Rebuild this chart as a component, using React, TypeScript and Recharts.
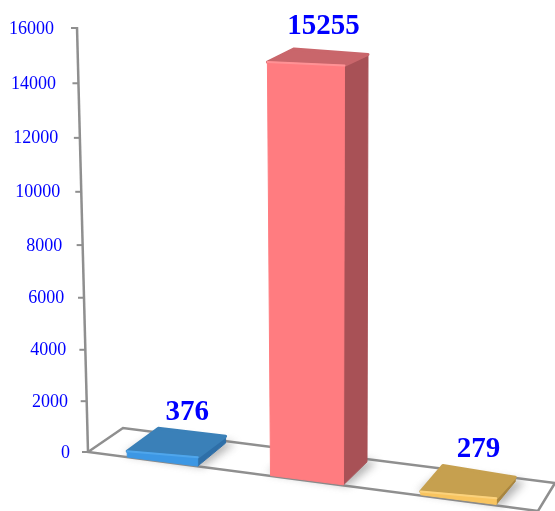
import { BarChart, Bar, XAxis, YAxis, LabelList } from "recharts";

const categories = ["A", "B", "C"];
const counts = [376, 15255, 279];
const yTicks = [0, 2000, 4000, 6000, 8000, 10000, 12000, 14000, 16000];

const frontColors = ["#3c97e4", "#ff7c80", "#f8c45f"];
const topColors = ["#3a80b8", "#c9666b", "#c6a04f"];
const sideColors = ["#2e6fa8", "#a85156", "#a8853f"];
const edgeColors = ["#4fa6ec", "#ff9295", "#fbd27c"];

const data = categories.map((name, i) => ({ name, count: counts[i] }));

const LINE = "#8f8f8f";
const LABEL_FONT = '"Liberation Serif", "Times New Roman", serif';

// value axis shrinks a little towards the top, the picture has perspective
function perspectiveScale(dom = [0, 16000], rng = [452, 28]) {
  const k = -0.0469;
  const scale: any = (v: number) => {
    const t = (v - dom[0]) / (dom[1] - dom[0]);
    return rng[0] + (rng[1] - rng[0]) * ((t * (1 + k)) / (1 + k * t));
  };
  scale.domain = (d?: number[]) => {
    if (!d) return dom;
    return perspectiveScale(d, rng);
  };
  scale.range = (r?: number[]) => {
    if (!r) return rng;
    return perspectiveScale(dom, r);
  };
  scale.copy = () => perspectiveScale(dom, rng);
  scale.ticks = () => yTicks;
  scale.tickFormat = () => (v: number) => String(v);
  return scale;
}

const floorY = (x: number) => 452 + 0.1285 * (x - 88);
const axisX = (y: number) => 77 + ((y - 27) * 11) / 425;

function pts(list: number[][]) {
  return list.map((p) => p.join(",")).join(" ");
}

// turns the flat rectangle of the library into a box standing on the sloped floor
function boxGeometry(x: number, width: number, height: number) {
  const cx = x + width / 2;
  const u = (cx - 310) / 148;
  const mid = cx - 3.5 * (1 - u * u);
  const w = width * (1 + 0.035 * u);
  const left = mid - w / 2;
  const right = mid + w / 2;
  const h = Math.max(height * 1.035 - 4, 2);
  const botL = [left, floorY(left)];
  const botR = [right, floorY(right)];
  const topL = [left - 0.0075 * h, botL[1] - h];
  const topR = [right + 0.0024 * h, botR[1] - h * 1.007 - 3];
  const depthY = -23 + (10 * h) / 415;
  const depthYL = depthY - 0.0105 * (left - 127) * (1 - h / 415);
  const depthL = 31 - 0.03 * (left - 127);
  const depthR = 31 - 0.03 * (right - 127) - 1;
  const backL = [topL[0] + depthL, topL[1] + depthYL];
  const backR = [topR[0] + depthR, topR[1] + depthY + 2];
  const baseBack = [botR[0] + depthR, botR[1] - 23];
  const baseBackL = [botL[0] + depthL, botL[1] - 23];
  return { h, cx, botL, botR, topL, topR, backL, backR, baseBack, baseBackL };
}

function BoxShape(props: any) {
  const { x, width, height, index } = props;
  const g = boxGeometry(x, width, height);
  return (
    <g>
      <polygon
        points={pts([
          [g.botL[0] - 3, g.botL[1] - 3],
          [g.botR[0] + 5, g.botR[1] + 1],
          [g.baseBack[0] + 10, g.baseBack[1]],
          [g.baseBackL[0], g.baseBackL[1]],
        ])}
        fill="#777"
        opacity={0.55}
        filter="url(#floorShadow)"
      />
      <polygon
        points={pts([g.topR, g.backR, g.baseBack, g.botR])}
        fill={sideColors[index]}
        stroke={sideColors[index]}
        strokeLinejoin="round"
      />
      <polygon
        points={pts([g.topL, g.backL, g.backR, g.topR])}
        fill={topColors[index]}
        stroke={topColors[index]}
        strokeWidth={3}
        strokeLinejoin="round"
      />
      <polygon
        points={pts([g.topL, g.topR, g.botR, g.botL])}
        fill={frontColors[index]}
        stroke={frontColors[index]}
        strokeLinejoin="round"
      />
      <line
        x1={g.topL[0]}
        y1={g.topL[1]}
        x2={g.topR[0]}
        y2={g.topR[1]}
        stroke={edgeColors[index]}
        strokeWidth={2}
        strokeLinecap="round"
      />
    </g>
  );
}

function BoxLabel(props: any) {
  const { x, width, height, value } = props;
  const g = boxGeometry(x, width, height);
  const backMid = (g.backL[0] + g.backR[0]) / 2;
  const drift = -1 + (4 * (g.cx - 162)) / 296;
  return (
    <text
      x={backMid - 3.5 - g.h * 0.012 + drift}
      y={g.backL[1] - 8 - g.h * 0.018}
      textAnchor="middle"
      fill="#0000ff"
      fontFamily={LABEL_FONT}
      fontWeight="bold"
      fontSize={29}
    >
      {value}
    </text>
  );
}

function SlantedTick(props: any) {
  const { y, payload } = props;
  const ax = axisX(y);
  return (
    <g>
      <line x1={ax - 6} y1={y} x2={ax} y2={y} stroke={LINE} strokeWidth={2} />
      <text
        x={54 + ((y - 28) * 16) / 424}
        y={y + 5.5}
        textAnchor="end"
        fill="#0000ff"
        fontFamily={LABEL_FONT}
        fontSize={18}
      >
        {payload.value}
      </text>
    </g>
  );
}

export default function App() {
  return (
    <div style={wrapStyle}>
      <BarChart
        width={555}
        height={511}
        data={data}
        margin={{ top: 28, right: 23, bottom: 59, left: 0 }}
      >
        <defs>
          <filter id="floorShadow" x="-30%" y="-60%" width="160%" height="220%">
            <feGaussianBlur stdDeviation="4" />
          </filter>
        </defs>
        <polygon
          points="88,452 123,428 555,483 538,511"
          fill="#ffffff"
          stroke={LINE}
          strokeWidth={2.5}
        />
        <line x1={77} y1={27} x2={88} y2={452} stroke={LINE} strokeWidth={2.5} />
        <XAxis dataKey="name" hide />
        <YAxis
          width={88}
          type="number"
          domain={[0, 16000]}
          ticks={yTicks}
          interval={0}
          scale={perspectiveScale()}
          axisLine={false}
          tickLine={false}
          tick={SlantedTick}
        />
        <Bar
          dataKey="count"
          barSize={73}
          isAnimationActive={false}
          shape={BoxShape}
        >
          <LabelList dataKey="count" content={BoxLabel} />
        </Bar>
      </BarChart>
    </div>
  );
}

const wrapStyle: React.CSSProperties = {
  position: "absolute",
  left: 0,
  top: 0,
  width: 555,
  height: 511,
  overflow: "hidden",
  background: "#ffffff",
  filter: "blur(0.4px)",
};
